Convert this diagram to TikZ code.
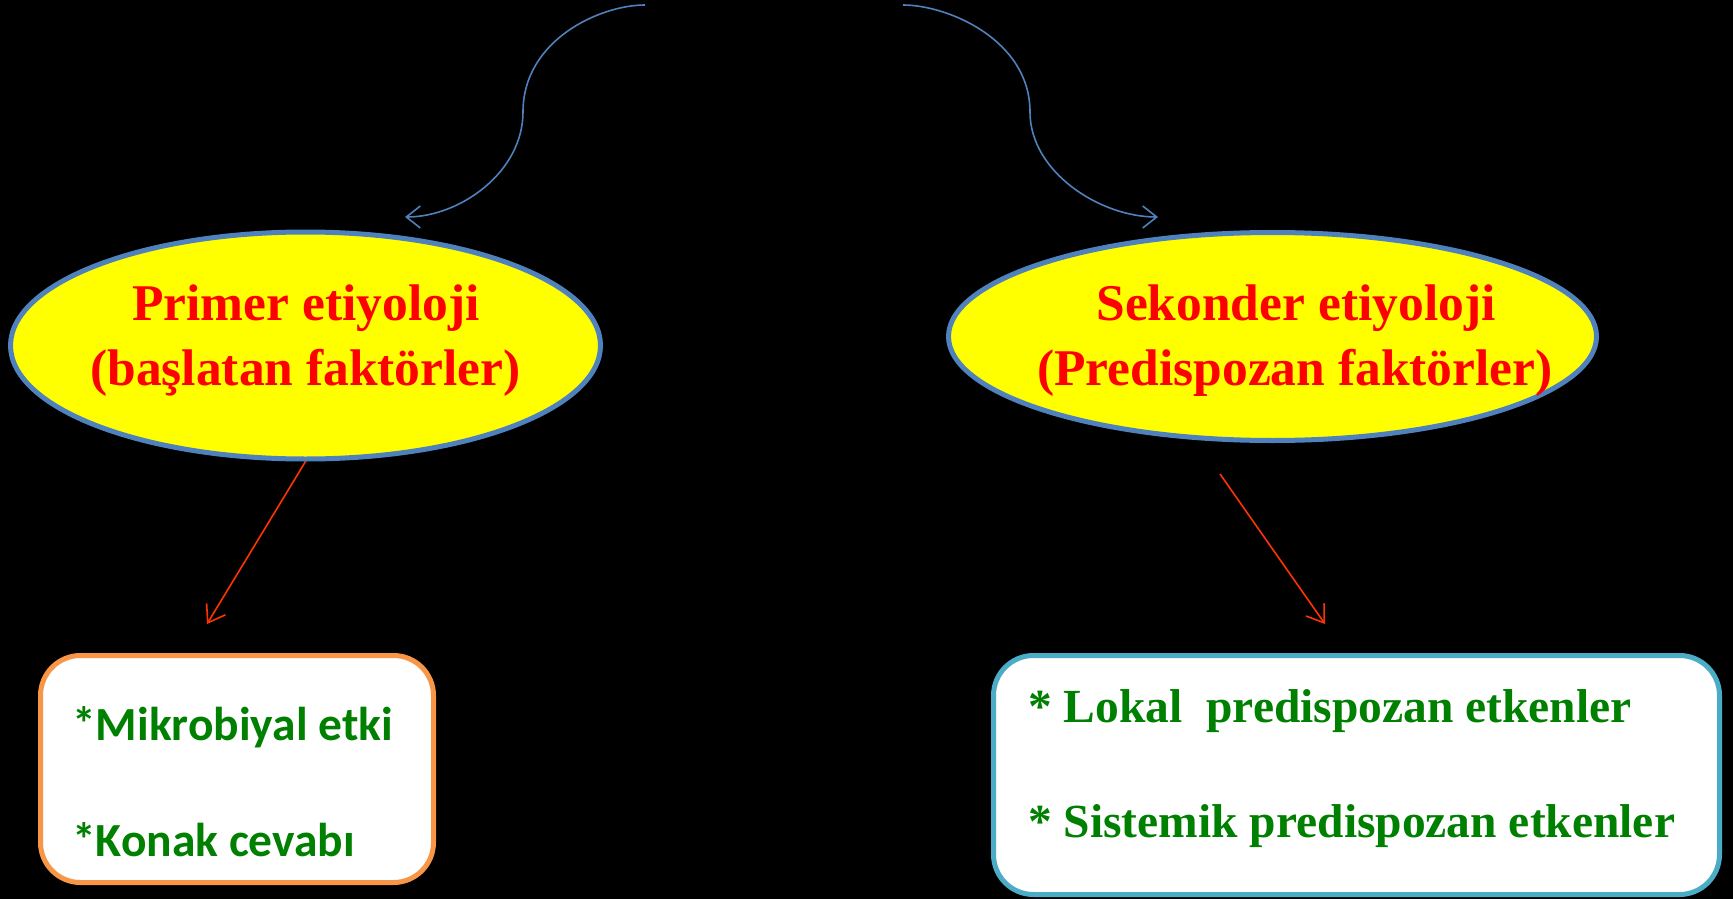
\documentclass[tikz,border=0pt]{standalone}
\usepackage{fontspec}
\setmainfont{Liberation Serif}
\newfontfamily\carl{Carlito}
\usetikzlibrary{shapes.geometric,arrows.meta}
\definecolor{ellblue}{HTML}{4F81BD}
\definecolor{ellfill}{HTML}{FFFF00}
\definecolor{arrred}{HTML}{FF3300}
\definecolor{txtgreen}{HTML}{008000}
\definecolor{boxorange}{HTML}{F79646}
\definecolor{boxcyan}{HTML}{4BACC6}
\begin{document}
\begin{tikzpicture}[x=1pt,y=-1pt,
  ell/.style={ellipse, draw=ellblue, line width=5pt, fill=ellfill, inner sep=0pt},
  ttl/.style={text=red, font=\bfseries\fontsize{51.5}{60}\selectfont, inner sep=0pt, anchor=base},
  roundbox/.style={rectangle, line width=5pt, rounded corners=40pt, fill=white, inner sep=0pt},
  sanstxt/.style={text=txtgreen, font=\carl\bfseries\fontsize{47.5}{56}\selectfont, anchor=base west, inner sep=0pt},
  seriftxt/.style={text=txtgreen, font=\bfseries\fontsize{47.5}{56}\selectfont, anchor=base west, inner sep=0pt},
  bluearr/.style={draw=ellblue, line width=1.6pt, -{Straight Barb[length=14pt,width=22pt]}},
  redarr/.style={draw=arrred, line width=1.6pt, -{Straight Barb[length=16pt,width=22pt]}}]
\fill[black] (0,0) rectangle (1733,899);
\useasboundingbox (0,0) rectangle (1733,899);

% ellipses
\node[ell, minimum width=590pt, minimum height=227pt] (lell) at (305.5,345.5) {};
\node[ell, minimum width=648pt, minimum height=208pt] (rell) at (1272.5,336.5) {};
\node[ttl] (lt1) at (306,320) {Primer etiyoloji};
\node[ttl] (lt2) at (305.5,385) {(başlatan faktörler)};
\node[ttl] (rt1) at (1296,320) {Sekonder etiyoloji};
\node[ttl] (rt2) at (1295,385) {(Predispozan faktörler)};

% boxes
\node[roundbox, draw=boxorange, minimum width=393pt, minimum height=227pt] (lbox) at (237,769) {};
\node[roundbox, draw=boxcyan, minimum width=726pt, minimum height=239pt] (rbox) at (1356.5,775) {};
\node[sanstxt] (lb1) at (72,740) {*Mikrobiyal etki};
\node[sanstxt] (lb2) at (72,856) {*Konak cevabı};
\node[seriftxt] (rb1) at (1028,722) {* Lokal\ \ predispozan etkenler};
\node[seriftxt] (rb2) at (1028,837) {* Sistemik predispozan etkenler};

% free ends
\coordinate (ltop) at (645,5);
\coordinate (lmid) at (523,112);
\coordinate (lend) at (405,217);
\coordinate (rtop) at (903,5);
\coordinate (rmid) at (1030,112);
\coordinate (rend) at (1158,217);
\coordinate (la) at (207,624);
\coordinate (rs) at (1220,474);
\coordinate (ra) at (1325,624);

% blue curved arrows
\draw[bluearr] (ltop) .. controls (600,5) and (523,40) .. (lmid)
  .. controls (523,172) and (460,217) .. (lend);
\draw[bluearr] (rtop) .. controls (948,5) and (1030,40) .. (rmid)
  .. controls (1030,172) and (1100,217) .. (rend);

% red arrows
\draw[redarr] (lell.south) -- (la);
\draw[redarr] (rs) -- (ra);
\end{tikzpicture}
\end{document}
